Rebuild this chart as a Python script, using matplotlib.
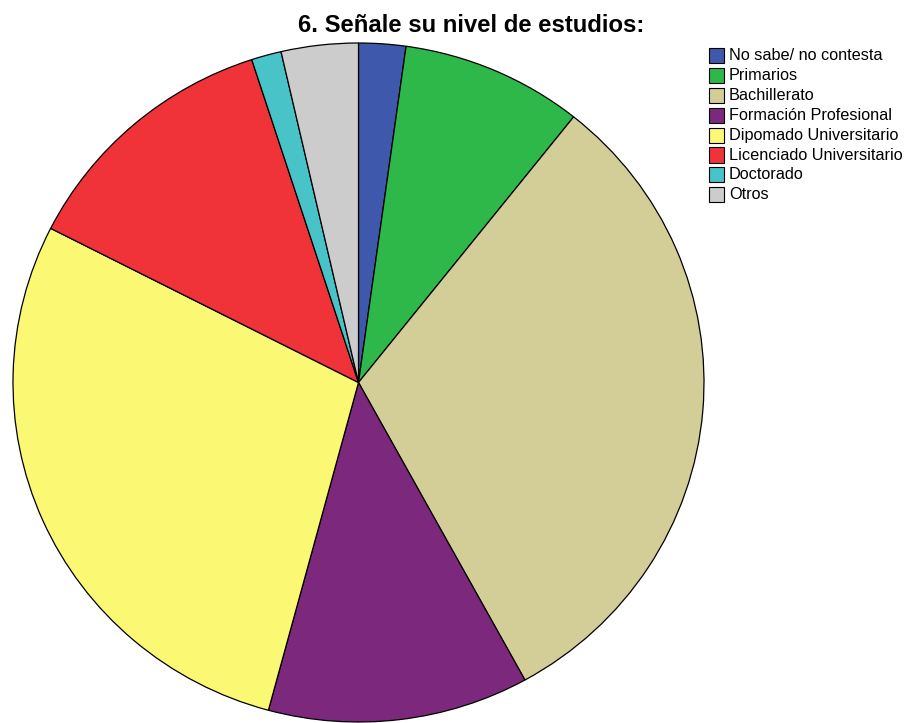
import matplotlib
matplotlib.use('Agg')
import matplotlib.pyplot as plt
from matplotlib.patches import Rectangle

plt.rcParams['font.family'] = ['Liberation Sans', 'DejaVu Sans']

# Datos (porcentaje)
categorias = ['No sabe/ no contesta', 'Primarios', 'Bachillerato',
              'Formación Profesional', 'Dipomado Universitario',
              'Licenciado Universitario', 'Doctorado', 'Otros']
valores = [2.2, 8.5, 31.3, 12.2, 28.3, 12.5, 1.4, 3.6]
colores = ['#3e58ac', '#2eb84a', '#d3ce97', '#7c287c',
           '#fbf873', '#ef3338', '#48c4c8', '#cccccc']

W, H = 905, 723
fig = plt.figure(figsize=(W / 100, H / 100), dpi=100)

# Ejes del pastel (en píxeles: x 13-704, y 43-722)
ax = fig.add_axes([13 / W, 1 / H, 691 / W, 679 / H])
ax.pie(valores, colors=colores, startangle=90, counterclock=False,
       wedgeprops=dict(edgecolor='black', linewidth=0.9))
ax.set_aspect('auto')
ax.set_xlim(-1, 1)
ax.set_ylim(-1, 1)
ax.axis('off')

# Título
fig.text(471 / W, 1 - 25 / H, '6. Señale su nivel de estudios:',
         ha='center', va='center', fontsize=17.2, fontweight='bold')

# Leyenda
y0 = 55.5
paso = 19.9
for i, (cat, col) in enumerate(zip(categorias, colores)):
    yc = y0 + i * paso
    fig.patches.append(Rectangle((709 / W, 1 - (yc + 7.5) / H), 15 / W, 15 / H,
                                 transform=fig.transFigure, facecolor=col,
                                 edgecolor='black', linewidth=0.8))
    fig.text(729 / W, 1 - yc / H, cat, ha='left', va='center', fontsize=11.7)

plt.savefig('out.png', dpi=100)
